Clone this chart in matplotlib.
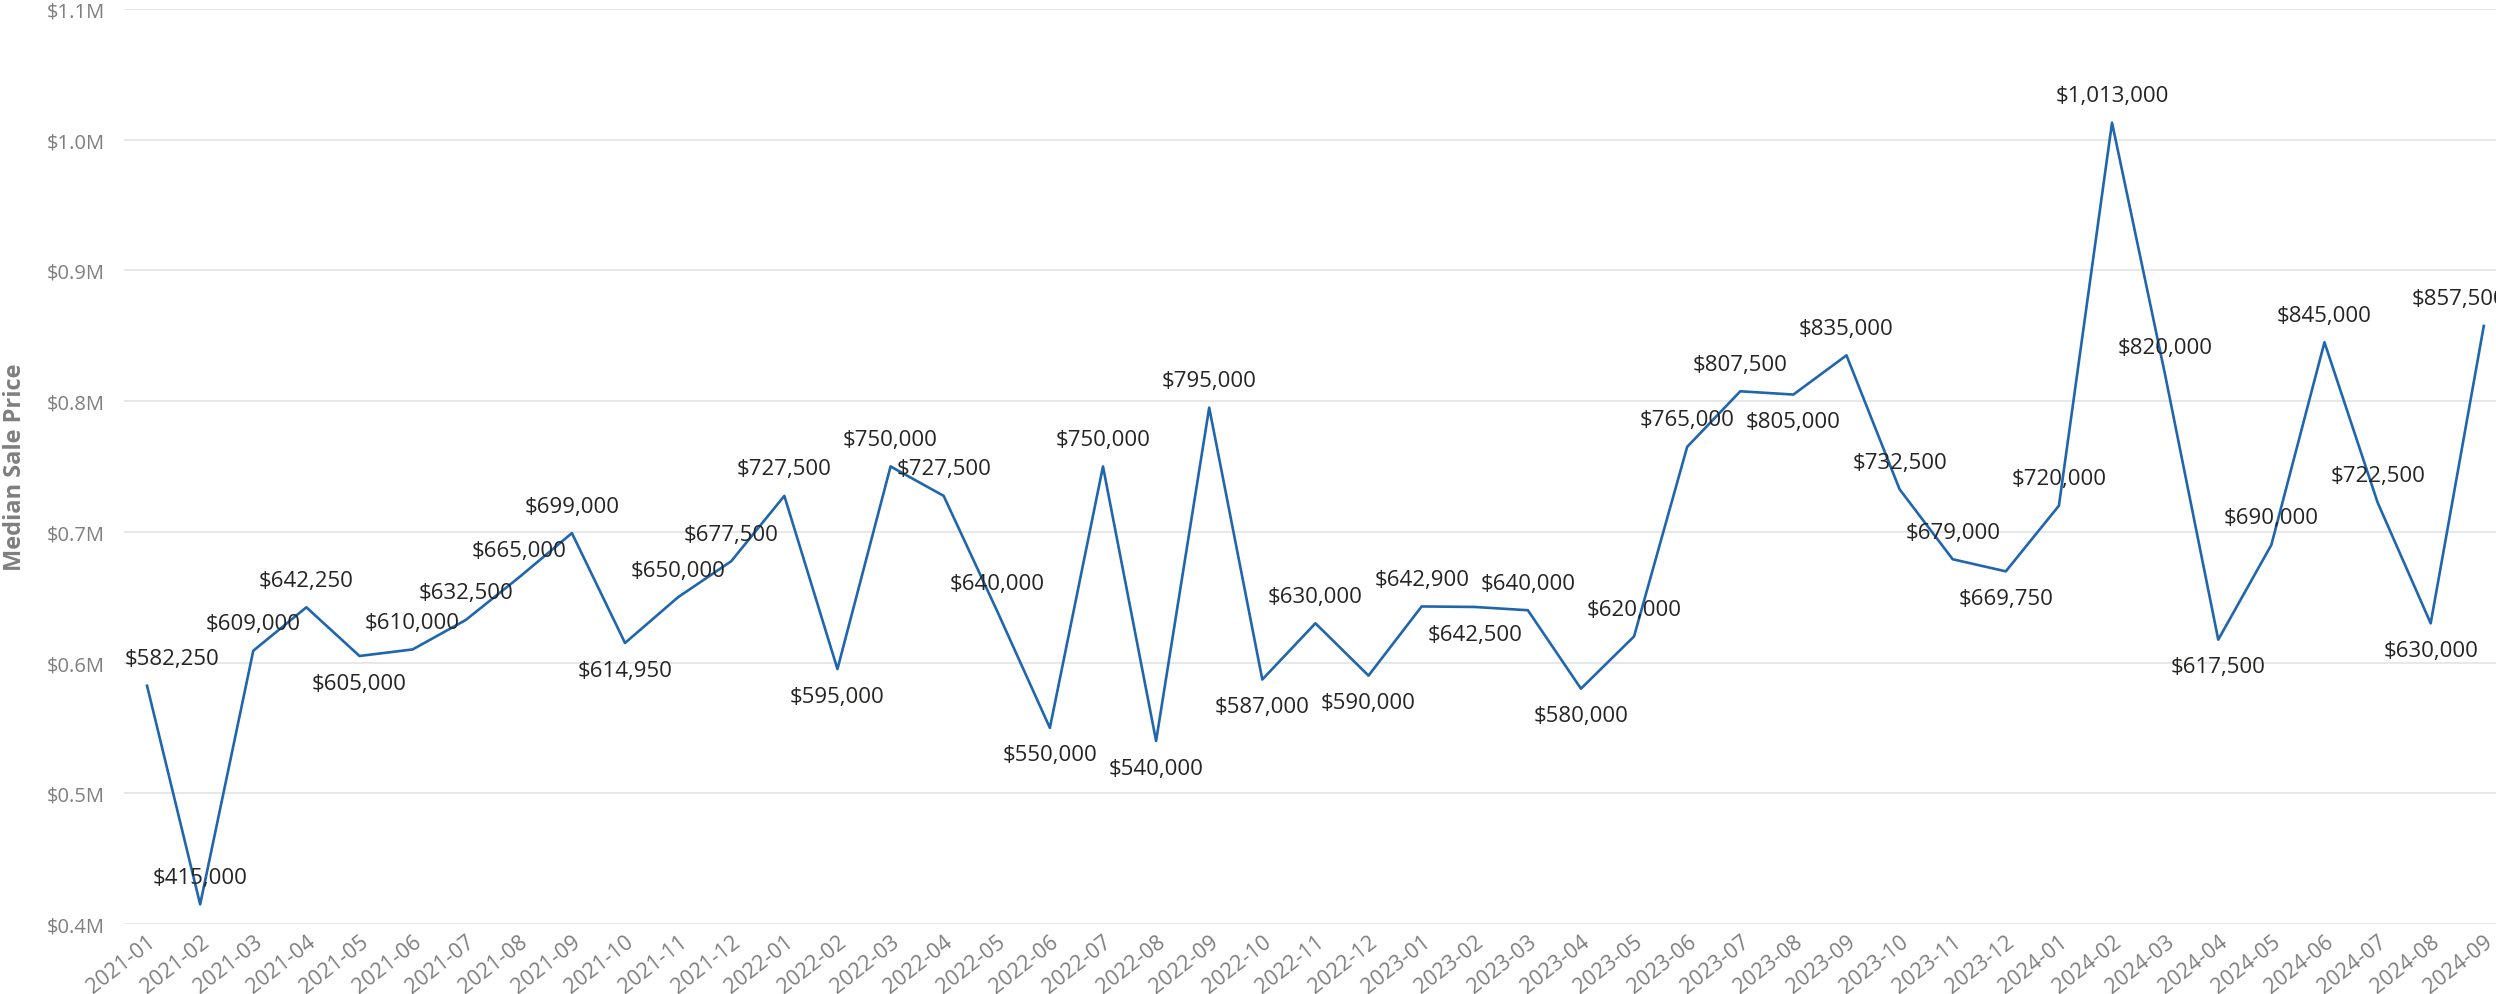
import matplotlib
matplotlib.use("Agg")
import matplotlib.pyplot as plt
from matplotlib.ticker import FuncFormatter

# data
months = ["2021-01", "2021-02", "2021-03", "2021-04", "2021-05", "2021-06", "2021-07", "2021-08",
          "2021-09", "2021-10", "2021-11", "2021-12", "2022-01", "2022-02", "2022-03", "2022-04",
          "2022-05", "2022-06", "2022-07", "2022-08", "2022-09", "2022-10", "2022-11", "2022-12",
          "2023-01", "2023-02", "2023-03", "2023-04", "2023-05", "2023-06", "2023-07", "2023-08",
          "2023-09", "2023-10", "2023-11", "2023-12", "2024-01", "2024-02", "2024-03", "2024-04",
          "2024-05", "2024-06", "2024-07", "2024-08", "2024-09"]
median_price = [582250, 415000, 609000, 642250, 605000, 610000, 632500, 665000,
                699000, 614950, 650000, 677500, 727500, 595000, 750000, 727500,
                640000, 550000, 750000, 540000, 795000, 587000, 630000, 590000,
                642900, 642500, 640000, 580000, 620000, 765000, 807500, 805000,
                835000, 732500, 679000, 669750, 720000, 1013000, 820000, 617500,
                690000, 845000, 722500, 630000, 857500]

# label placement: 1 = above the point, -1 = below
label_side = [1, 1, 1, 1, -1, 1, 1, 1,
              1, -1, 1, 1, 1, -1, 1, 1,
              1, -1, 1, -1, 1, -1, 1, -1,
              1, -1, 1, -1, 1, 1, 1, -1,
              1, 1, 1, -1, 1, 1, 1, -1,
              1, 1, 1, -1, 1]

plt.rcParams['font.family'] = ['Open Sans', 'DejaVu Sans']

fig = plt.figure(figsize=(24.96, 9.95), dpi=100)
ax = fig.add_axes([0.0497, 0.0704, 0.9503, 0.9196])

x = list(range(len(months)))
ax.plot(x, median_price, color="#1f66ae", linewidth=1.9, zorder=3)

# edge labels get nudged inwards, like the original does
for i, v in enumerate(median_price):
    dx = 0
    if i == 0:
        dx = 18
    elif i == len(median_price) - 1:
        dx = -18
    ax.annotate("${:,.0f}".format(v), (i, v), xytext=(dx, 19.5 * label_side[i]),
                textcoords="offset points", ha="center", va="center",
                fontsize=16, color="#252423", zorder=4, annotation_clip=False)

ax.set_xlim(-0.433, 44.23)
ax.set_ylim(400000, 1100000)
ax.set_yticks([400000, 500000, 600000, 700000, 800000, 900000, 1000000, 1100000])
ax.yaxis.set_major_formatter(FuncFormatter(lambda v, p: "${:.1f}M".format(v / 1e6)))
ax.grid(axis="y", color="#e6e6e6", linewidth=1.3)
ax.set_axisbelow(True)

ax.set_xticks(x)
ax.set_xticklabels(months, rotation=38, ha="right", va="top", rotation_mode="anchor")
ax.tick_params(axis="x", length=0, pad=5, labelsize=15.5, labelcolor="#7f7f7f")
ax.tick_params(axis="y", length=0, pad=14, labelsize=14.5, labelcolor="#7f7f7f")

for s in ax.spines.values():
    s.set_visible(False)

ax.set_ylabel("Median Sale Price", fontsize=17, fontweight="bold", color="#7f7f7f", va="center")
ax.yaxis.set_label_coords(-0.046, 0.5)

fig.savefig("out.png", dpi=100)
